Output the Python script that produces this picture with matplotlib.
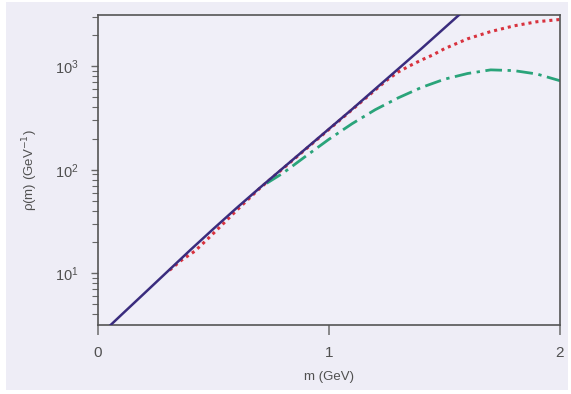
import numpy as np
import matplotlib
matplotlib.use("Agg")
import matplotlib.pyplot as plt
from matplotlib.patches import Rectangle
from matplotlib.ticker import LogLocator, FixedLocator, NullFormatter

# Solid curve (exponential spectrum)
m_solid = [0.05, 0.1, 0.2, 0.3, 0.4, 0.5, 0.6, 0.7, 0.8, 0.9, 1.0, 1.1, 1.2, 1.3, 1.4, 1.5, 1.6]
rho_solid = [3.09, 3.94, 6.38, 10.35, 16.8, 26.9, 42.7, 66.8, 103.5, 160.3, 248.3,
             384.6, 602.6, 944, 1479, 2344, 3715]

# Red dotted curve
m_red = [0.31, 0.36, 0.42, 0.48, 0.54, 0.6, 0.7, 0.8, 0.9, 1.0, 1.1, 1.2, 1.25, 1.3,
         1.35, 1.4, 1.45, 1.5, 1.6, 1.7, 1.8, 1.9, 2.0]
rho_red = [10.7, 13.3, 16.4, 22.0, 29.8, 40.5, 66.1, 102.3, 158.5, 245.5, 380.2, 588.8,
           732.8, 881, 1012, 1148, 1288, 1479, 1841, 2163, 2455, 2692, 2831]

# Green dash-dot curve
m_green = [0.73, 0.8, 0.9, 1.0, 1.1, 1.2, 1.3, 1.4, 1.5, 1.6, 1.7, 1.8, 1.9, 2.0]
rho_green = [74.0, 92.5, 135.5, 197.2, 278.6, 380.2, 495.5, 623.7, 749.9, 851.1,
             922.6, 907.8, 841.4, 724.4]

x_ticks = [0, 1, 2]
x_ticklabels = ["0", "1", "2"]

plt.rcParams['font.family'] = ['Liberation Sans', 'DejaVu Sans']

fig = plt.figure(figsize=(5.71, 3.94), dpi=100)
fig.patch.set_facecolor("white")
bg = "#EEEDF6"
fig.patches.append(Rectangle((6 / 571, 4 / 394), 562 / 571, 388 / 394,
                             transform=fig.transFigure, facecolor=bg,
                             edgecolor="none", zorder=-10))

ax = fig.add_axes([98 / 571, 1 - 325 / 394, 462 / 571, (325 - 14.5) / 394])
ax.set_facecolor("#F0EFF8")

ax.plot(m_solid, rho_solid, color="#3A2C7E", lw=1.8, solid_capstyle="butt", zorder=3)
ax.plot(m_red, rho_red, color="#D8323E", lw=2.2, linestyle=(0, (1.0, 1.3)), zorder=2)
ax.plot(m_green, rho_green, color="#2AA47A", lw=2.0,
        linestyle=(0, (6.0, 2.0, 1.2, 2.0)), zorder=2)

ax.set_yscale("log")
ax.set_xlim(0, 2)
ax.set_ylim(10 ** 0.5, 10 ** 3.5)

ax.xaxis.set_major_locator(FixedLocator(x_ticks))
ax.set_xticklabels(x_ticklabels)
ax.yaxis.set_major_locator(LogLocator(base=10, numticks=10))
ax.yaxis.set_minor_locator(LogLocator(base=10, subs=np.arange(2, 10), numticks=10))
ax.yaxis.set_minor_formatter(NullFormatter())

for s in ax.spines.values():
    s.set_color("#555555")
    s.set_linewidth(1.2)

ax.tick_params(axis="x", which="major", direction="out", length=7, width=1.2,
               color="#777777", labelsize=11, labelcolor="#505050", pad=8)
ax.tick_params(axis="y", which="major", direction="out", length=5, width=1.0,
               color="#666666", labelsize=10.5, labelcolor="#505050", pad=9)
ax.tick_params(axis="y", which="minor", direction="out", length=4, width=0.8,
               color="#666666")
ax.tick_params(axis="x", which="minor", bottom=False)

ax.set_xlabel("m (GeV)", fontsize=9.5, color="#505050", labelpad=8)
ax.set_ylabel("ρ(m) (GeV$^{-1}$)", fontsize=9.5, color="#505050", labelpad=11)

fig.savefig("out.png", dpi=100, facecolor=fig.get_facecolor())
